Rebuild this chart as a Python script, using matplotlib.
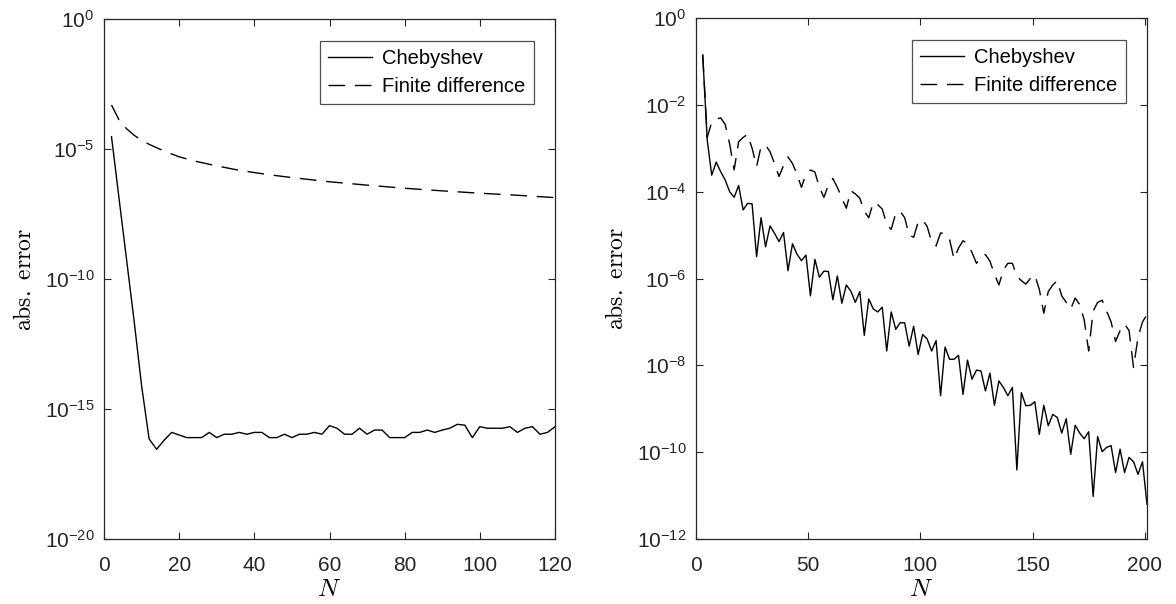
import numpy as np
import matplotlib
matplotlib.use("Agg")
import matplotlib.pyplot as plt

plt.rcParams["font.family"] = ["Liberation Sans", "DejaVu Sans"]
plt.rcParams["mathtext.fontset"] = "cm"

# ---- left panel: N = 2, 4, ..., 120 -------------------------------------
n_left = np.arange(2, 121, 2)
cheb_left_exp = [
    -4.53, -6.90, -9.25, -11.60, -14.10, -16.15, -16.55, -16.20, -15.90, -16.00,
    -16.10, -16.10, -16.10, -15.90, -16.10, -15.97, -15.97, -15.90, -15.97, -15.90,
    -15.90, -16.10, -16.10, -15.97, -16.10, -15.97, -15.97, -15.90, -15.97, -15.64,
    -15.74, -15.97, -15.97, -15.74, -15.97, -15.81, -15.81, -16.10, -16.10, -16.10,
    -15.90, -15.90, -15.81, -15.90, -15.81, -15.74, -15.59, -15.62, -16.10, -15.68,
    -15.74, -15.74, -15.74, -15.68, -15.90, -15.74, -15.68, -15.97, -15.90, -15.68,
]
n_left_fd = [2, 4, 6, 8, 10, 12, 16, 20, 24, 30, 36, 44, 50, 60, 70, 80, 90, 100, 110, 120]
fd_left_exp = [
    -3.31, -3.88, -4.22, -4.47, -4.66, -4.82, -5.08, -5.30, -5.46, -5.65,
    -5.82, -5.99, -6.10, -6.26, -6.39, -6.51, -6.61, -6.70, -6.78, -6.87,
]

# ---- right panel: N = 3, 5, ..., 201 ------------------------------------
n_right = np.arange(3, 202, 2)
cheb_right_exp = [
    -0.85, -2.81, -3.62, -3.32, -3.54, -3.73, -4.00, -4.13, -3.86, -4.42,
    -4.27, -4.28, -5.50, -4.60, -5.27, -4.79, -4.96, -5.15, -4.94, -5.82,
    -5.20, -5.44, -5.59, -5.46, -6.40, -5.56, -5.97, -5.83, -5.84, -6.49,
    -5.94, -6.57, -6.15, -6.29, -6.55, -6.30, -7.31, -6.47, -6.70, -6.77,
    -6.66, -7.67, -6.77, -7.17, -7.02, -7.02, -7.56, -7.10, -7.75, -7.29,
    -7.39, -7.67, -7.43, -8.70, -7.58, -7.86, -7.86, -7.77, -8.67, -7.88,
    -8.32, -8.11, -8.13, -8.59, -8.18, -8.92, -8.36, -8.51, -8.70, -8.51,
    -10.41, -8.63, -8.93, -8.92, -8.84, -9.59, -8.92, -9.39, -9.13, -9.20,
    -9.56, -9.23, -10.05, -9.38, -9.56, -9.69, -9.53, -11.02, -9.64, -9.99,
    -9.89, -9.85, -10.47, -9.93, -10.47, -10.12, -10.22, -10.51, -10.22, -11.20,
]
fd_right_exp = [
    -0.85, -2.75, -2.40, -2.33, -2.30, -2.45, -2.90, -3.50, -2.85, -2.75,
    -2.68, -3.00, -3.42, -2.96, -2.93, -3.08, -3.35, -3.65, -3.40, -3.20,
    -3.35, -3.60, -3.90, -3.60, -3.50, -3.55, -3.90, -4.13, -3.85, -3.70,
    -3.90, -4.15, -4.38, -3.98, -4.05, -4.15, -4.45, -4.60, -4.25, -4.30,
    -4.40, -4.75, -4.87, -4.50, -4.45, -4.60, -5.00, -5.05, -4.70, -4.65,
    -4.80, -5.15, -5.25, -4.95, -4.97, -5.10, -5.55, -5.30, -5.13, -5.20,
    -5.40, -5.65, -5.50, -5.45, -5.60, -5.90, -6.15, -5.80, -5.65, -5.65,
    -5.95, -6.05, -6.13, -6.00, -5.92, -6.25, -6.80, -6.30, -6.15, -6.05,
    -6.40, -6.55, -6.70, -6.45, -6.60, -6.95, -7.67, -6.75, -6.55, -6.50,
    -6.75, -7.00, -7.45, -7.20, -7.05, -7.20, -8.05, -7.35, -7.00, -6.83,
]

left_yticks = [0, -5, -10, -15, -20]
left_xticks = [0, 20, 40, 60, 80, 100, 120]
right_yticks = [0, -2, -4, -6, -8, -10, -12]
right_xticks = [0, 50, 100, 150, 200]

AX_COLOR = "#262626"
DASH = (0, (12, 7))


def _style(ax, xlim, xticks, yexp):
    ax.set_yscale("log")
    ax.set_xlim(*xlim)
    ax.set_ylim(10.0 ** min(yexp), 10.0 ** max(yexp))
    ax.set_xticks(xticks)
    ax.set_yticks([10.0 ** e for e in yexp])
    ax.set_yticklabels([r"$\mathregular{10^{%d}}$" % e for e in yexp])
    ax.minorticks_off()
    ax.tick_params(which="both", direction="in", top=True, right=True,
                   length=5, width=0.8, colors=AX_COLOR, labelsize=15)
    ax.tick_params(axis="x", pad=12)
    ax.tick_params(axis="y", pad=7)
    for s in ax.spines.values():
        s.set_color(AX_COLOR)
        s.set_linewidth(0.9)
    ax.set_xlabel(r"$N$", fontsize=18, labelpad=2)
    ax.set_ylabel(r"$\mathrm{abs.\ error}$", fontsize=17, labelpad=6)
    leg = ax.legend(loc="upper right", bbox_to_anchor=(0.953, 0.958),
                    borderaxespad=0, fontsize=14.5, frameon=True, fancybox=False,
                    handlelength=2.2, handletextpad=0.5, labelspacing=0.45,
                    borderpad=0.4)
    leg.get_frame().set_edgecolor(AX_COLOR)
    leg.get_frame().set_linewidth(0.9)


fig = plt.figure(figsize=(11.76, 6.04), dpi=100)
fig.patch.set_facecolor("white")
ax1 = fig.add_axes([104 / 1176, 65 / 604, 451 / 1176, 520 / 604])
ax2 = fig.add_axes([696 / 1176, 65 / 604, 451 / 1176, 521 / 604])

ax1.plot(n_left, 10.0 ** np.array(cheb_left_exp), color="k", lw=1.0, label="Chebyshev")
ax1.plot(n_left_fd, 10.0 ** np.array(fd_left_exp), color="k", lw=1.0, ls=DASH,
         label="Finite difference")
_style(ax1, (0, 120), left_xticks, left_yticks)

ax2.plot(n_right, 10.0 ** np.array(cheb_right_exp), color="k", lw=1.0, label="Chebyshev")
ax2.plot(n_right, 10.0 ** np.array(fd_right_exp), color="k", lw=1.0, ls=DASH,
         label="Finite difference")
_style(ax2, (0, 201), right_xticks, right_yticks)

fig.savefig("out.png", dpi=100)
